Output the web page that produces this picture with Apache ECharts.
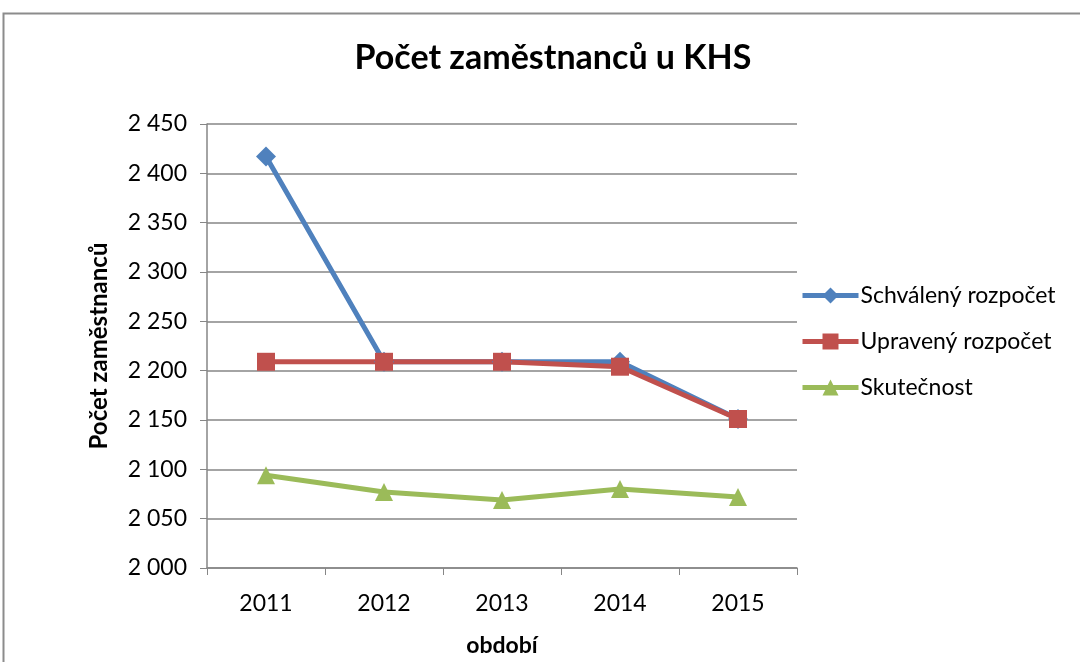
<!DOCTYPE html>
<html>
<head>
<meta charset="utf-8">
<script src="https://cdn.jsdelivr.net/npm/echarts@6/dist/echarts.min.js"></script>
<style>
  html, body { margin: 0; padding: 0; background: #fff; }
  #chart { width: 1080px; height: 662px; }
</style>
</head>
<body>
<div id="chart"></div>
<script>
// data
const years = ['2011', '2012', '2013', '2014', '2015'];
const schvaleny = [2417, 2209, 2209, 2209, 2151];
const upraveny = [2209, 2209, 2209, 2204, 2151];
const skutecnost = [2094, 2077, 2069, 2080, 2072];

const FONT = 'Lato';

function fmt(v) {
    return String(v).replace(/\B(?=(\d{3})+(?!\d))/g, ' ');
}

const chart = echarts.init(document.getElementById('chart'));

function lineSeries(name, data, color, symbol, size) {
    return {
        name: name,
        type: 'line',
        data: data,
        symbol: symbol,
        symbolSize: size,
        lineStyle: { color: color, width: 5 },
        itemStyle: { color: color },
        animation: false
    };
}

chart.setOption({
    backgroundColor: '#fff',
    textStyle: { fontFamily: FONT },
    graphic: [{
        type: 'rect',
        shape: { x: 3.5, y: 13.5, width: 1100, height: 700 },
        style: { fill: 'none', stroke: '#8c8c8c', lineWidth: 2 }
    }],
    title: {
        text: 'Počet zaměstnanců u KHS',
        left: 548,
        textAlign: 'center',
        top: 36,
        textStyle: { fontSize: 34, fontWeight: 'bold', color: '#000', fontFamily: FONT }
    },
    legend: {
        orient: 'vertical',
        left: 795,
        top: 279,
        itemGap: 23,
        itemWidth: 56,
        itemHeight: 20,
        lineStyle: { width: 5 },
        textStyle: { fontSize: 23, color: '#000', fontFamily: FONT, padding: [0, 0, 0, -3] },
        data: ['Schválený rozpočet', 'Upravený rozpočet', 'Skutečnost']
    },
    grid: { left: 207, right: 283, top: 124, bottom: 94 },
    xAxis: {
        type: 'category',
        data: years,
        boundaryGap: true,
        name: 'období',
        nameLocation: 'middle',
        nameGap: 66,
        nameTextStyle: { fontSize: 23, fontWeight: 'bold', color: '#000', fontFamily: FONT },
        axisLine: { lineStyle: { color: '#868686', width: 1.5 } },
        axisTick: { show: true, length: 7, alignWithLabel: false, lineStyle: { color: '#868686' } },
        axisLabel: { fontSize: 23, color: '#000', margin: 24, fontFamily: FONT }
    },
    yAxis: {
        type: 'value',
        min: 2000,
        max: 2450,
        interval: 50,
        name: 'Počet zaměstnanců',
        nameLocation: 'middle',
        nameGap: 96,
        nameTextStyle: { fontSize: 24, fontWeight: 'bold', color: '#000', fontFamily: FONT },
        axisLine: { show: true, lineStyle: { color: '#868686', width: 1.5 } },
        axisTick: { show: true, length: 7, lineStyle: { color: '#868686' } },
        axisLabel: { fontSize: 23, color: '#000', margin: 20, fontFamily: FONT, formatter: fmt },
        splitLine: { lineStyle: { color: '#868686', width: 1.5 } }
    },
    series: [
        lineSeries('Schválený rozpočet', schvaleny, '#4F81BD', 'diamond', 20),
        lineSeries('Upravený rozpočet', upraveny, '#C0504D', 'rect', 18),
        lineSeries('Skutečnost', skutecnost, '#9BBB59', 'triangle', 18)
    ]
});
</script>
</body>
</html>
